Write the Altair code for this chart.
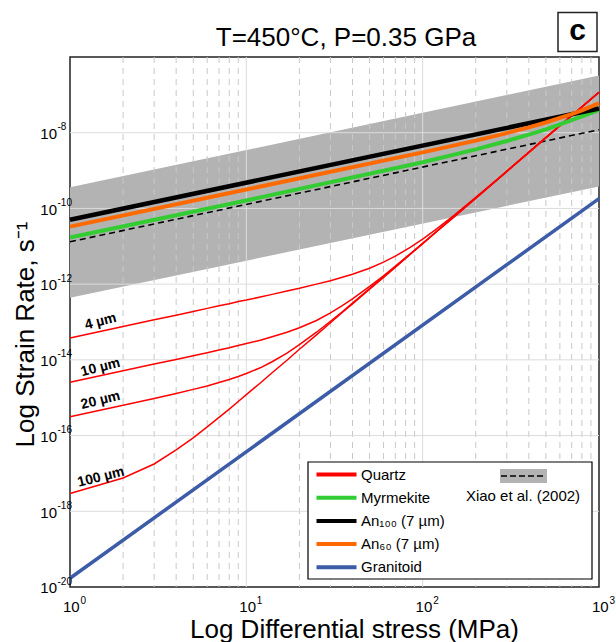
import altair as alt
import pandas as pd

FONT = "Liberation Sans"

# ---------------- data (log10 of strain rate) ----------------
stress_q = [1, 2, 3, 4, 5, 6, 7, 8, 9, 10, 12, 14, 17, 20, 25, 30, 35, 40, 50, 60, 70, 85,
            100, 120, 150, 200, 300, 500, 1000]
log_q_4um = [-13.42, -13.12, -12.94, -12.82, -12.72, -12.64, -12.57, -12.52, -12.46, -12.42,
             -12.34, -12.27, -12.18, -12.11, -12.00, -11.91, -11.82, -11.74, -11.58, -11.42,
             -11.26, -11.03, -10.81, -10.54, -10.19, -9.71, -9.02, -8.13, -6.93]
log_q_10um = [-14.59, -14.29, -14.11, -13.99, -13.89, -13.81, -13.74, -13.68, -13.62, -13.57,
              -13.48, -13.39, -13.27, -13.15, -12.96, -12.76, -12.57, -12.39, -12.06, -11.78,
              -11.52, -11.20, -10.92, -10.61, -10.22, -9.73, -9.02, -8.13, -6.93]
log_q_20um = [-15.50, -15.20, -15.02, -14.89, -14.78, -14.69, -14.60, -14.52, -14.44, -14.36,
              -14.21, -14.05, -13.82, -13.60, -13.27, -12.98, -12.73, -12.50, -12.12, -11.81,
              -11.55, -11.21, -10.93, -10.61, -10.23, -9.73, -9.02, -8.13, -6.93]
log_q_100um = [-17.53, -17.12, -16.75, -16.38, -16.06, -15.77, -15.52, -15.30, -15.10, -14.92,
               -14.61, -14.34, -14.01, -13.72, -13.34, -13.02, -12.75, -12.52, -12.13, -11.82,
               -11.55, -11.21, -10.93, -10.61, -10.23, -9.73, -9.02, -8.13, -6.93]
grain_names = ["4 µm", "10 µm", "20 µm", "100 µm"]

stress_f = [1, 10, 100, 200, 300, 400, 500, 600, 700, 800, 900, 1000]
log_myrmekite = [-10.77, -9.79, -8.78, -8.44, -8.22, -8.05, -7.91, -7.78, -7.67, -7.57, -7.48, -7.39]
log_an60 = [-10.48, -9.50, -8.52, -8.21, -8.01, -7.86, -7.73, -7.61, -7.51, -7.41, -7.31, -7.22]

stress_end = [1, 1000]
log_an100 = [-10.30, -7.36]
log_granitoid = [-19.77, -9.74]
log_xiao = [-10.88, -7.92]
log_xiao_lo = [-12.36, -9.42]
log_xiao_hi = [-9.44, -6.49]

series_names = ["Quartz", "Myrmekite", "An₁₀₀ (7 µm)", "An₆₀ (7 µm)", "Granitoid"]
series_colors = ["#ff0000", "#33cc33", "#000000", "#ff6a00", "#3d5ca8"]

# grain-size annotations (data space)
label_text = ["4 µm", "10 µm", "20 µm", "100 µm"]
label_stress = [1.49, 1.49, 1.49, 1.50]
label_log = [-12.99, -14.20, -15.07, -17.10]

# grid / ticks
x_major = [10, 100]
x_minor = [2, 3, 4, 5, 6, 7, 8, 9, 20, 30, 40, 50, 60, 70, 80, 90,
           200, 300, 400, 500, 600, 700, 800, 900]
y_major_exp = [-18, -16, -14, -12, -10, -8]
x_tick_vals = [1, 10, 100, 1000]
x_tick_exp = ["0", "1", "2", "3"]
y_tick_exp_num = [-20, -18, -16, -14, -12, -10, -8]
y_tick_exp = ["-20", "-18", "-16", "-14", "-12", "-10", "-8"]

# ---------------- tables ----------------
q_rows = []
for g, vals in zip(grain_names, [log_q_4um, log_q_10um, log_q_20um, log_q_100um]):
    for s, v in zip(stress_q, vals):
        q_rows.append({"stress": s, "rate": 10 ** v, "grain": g, "series": "Quartz"})
quartz_df = pd.DataFrame(q_rows)


def series_df(name, xs, logs):
    return pd.DataFrame({"stress": xs, "rate": [10 ** v for v in logs], "series": name})


myr_df = series_df(series_names[1], stress_f, log_myrmekite)
an100_df = series_df(series_names[2], stress_end, log_an100)
an60_df = series_df(series_names[3], stress_f, log_an60)
gran_df = series_df(series_names[4], stress_end, log_granitoid)
xiao_df = pd.DataFrame({"stress": stress_end, "rate": [10 ** v for v in log_xiao]})
band_df = pd.DataFrame({"stress": stress_end,
                        "lo": [10 ** v for v in log_xiao_lo],
                        "hi": [10 ** v for v in log_xiao_hi]})
ann_df = pd.DataFrame({"stress": label_stress, "rate": [10 ** v for v in label_log],
                       "label": label_text})
xmaj_df = pd.DataFrame({"stress": x_major})
xmin_df = pd.DataFrame({"stress": x_minor})
ymaj_df = pd.DataFrame({"rate": [10.0 ** e for e in y_major_exp]})
xtick_df = pd.DataFrame({"stress": x_tick_vals, "base": "10", "exp": x_tick_exp})
ytick_df = pd.DataFrame({"rate": [10.0 ** e for e in y_tick_exp_num], "base": "10", "exp": y_tick_exp})
one = pd.DataFrame({"k": [0]})

xscale = alt.Scale(type="log", domain=[1, 1000], nice=False)
yscale = alt.Scale(type="log", domain=[1e-20, 1e-6], nice=False)

xaxis = alt.Axis(labels=False, grid=False, ticks=False, domain=False,
                 titleFontSize=26, titleFont=FONT, titleFontWeight="normal", titleColor="black",
                 titleX=284, titleY=50, titleBaseline="alphabetic", titleAlign="center")
yaxis = alt.Axis(labels=False, grid=False, ticks=False, domain=False,
                 titleFontSize=26, titleFont=FONT, titleFontWeight="normal", titleColor="black",
                 titleX=-37, titleY=277, titleAngle=270, titleBaseline="alphabetic",
                 titleAlign="center")

XT = "Log Differential stress (MPa)"
YT = "Log Strain Rate, s⁻¹"


def X(field="stress"):
    return alt.X(f"{field}:Q", scale=xscale, axis=xaxis, title=XT)


def Y(field="rate"):
    return alt.Y(f"{field}:Q", scale=yscale, axis=yaxis, title=YT)


color = alt.Color("series:N",
                  scale=alt.Scale(domain=series_names, range=series_colors),
                  title=None,
                  legend=alt.Legend(orient="none", legendX=245, legendY=410, direction="vertical",
                                    symbolType="M-5,0H5", symbolSize=64, symbolStrokeWidth=4,
                                    symbolOffset=14, labelOffset=17, labelFontSize=15,
                                    labelFont=FONT, labelColor="black", rowPadding=6.2,
                                    padding=0, labelLimit=0))

band = alt.Chart(band_df).mark_area(color="#b3b3b3", opacity=1).encode(
    x=X(), y=Y("lo"), y2=alt.Y2("hi:Q"))
grid_xmin = alt.Chart(xmin_df).mark_rule(color="#c8c8c8", strokeWidth=1, strokeDash=[6, 5]).encode(x=X())
grid_xmaj = alt.Chart(xmaj_df).mark_rule(color="#dcdcdc", strokeWidth=1).encode(x=X())
grid_ymaj = alt.Chart(ymaj_df).mark_rule(color="#dcdcdc", strokeWidth=1).encode(y=Y())
xiao_line = alt.Chart(xiao_df).mark_line(color="black", strokeWidth=1.6, strokeDash=[6, 4]).encode(
    x=X(), y=Y())
quartz = alt.Chart(quartz_df).mark_line(strokeWidth=1.5).encode(
    x=X(), y=Y(), color=color, detail="grain:N")
thick = [alt.Chart(d).mark_line(strokeWidth=w).encode(x=X(), y=Y(), color=color)
         for d, w in [(myr_df, 4), (an100_df, 4.5), (an60_df, 4), (gran_df, 3.5)]]
ann = alt.Chart(ann_df).mark_text(font=FONT, fontSize=14, fontWeight="bold", angle=346,
                                  color="black", align="center", baseline="middle").encode(
    x=X(), y=Y(), text="label:N")

# tick labels with superscript exponents
xlab_base = alt.Chart(xtick_df).mark_text(font=FONT, fontSize=15, color="black", align="center",
                                          baseline="alphabetic", dx=1.3).encode(
    x=X(), y=alt.value(554.5), text="base:N")
xlab_exp = alt.Chart(xtick_df).mark_text(font=FONT, fontSize=10, color="black", align="left",
                                         baseline="alphabetic", dx=10.5).encode(
    x=X(), y=alt.value(546.5), text="exp:N")
ylab_base = alt.Chart(ytick_df).mark_text(font=FONT, fontSize=15, color="black", align="right",
                                          baseline="alphabetic", dy=6.3).encode(
    x=alt.value(-13), y=Y(), text="base:N")
ylab_exp = alt.Chart(ytick_df).mark_text(font=FONT, fontSize=10, color="black", align="left",
                                         baseline="alphabetic", dy=-2.5).encode(
    x=alt.value(-12.5), y=Y(), text="exp:N")

# legend frame and reference entry (decorations)
leg_box = alt.Chart(one).mark_rect(fill="white", stroke="black", strokeWidth=1.2).encode(
    x=alt.value(238), x2=alt.value(522), y=alt.value(405), y2=alt.value(522))
leg_gray = alt.Chart(one).mark_rect(fill="#b3b3b3").encode(
    x=alt.value(430), x2=alt.value(477), y=alt.value(412), y2=alt.value(426))
leg_dash = alt.Chart(one).mark_rule(color="black", strokeWidth=1.6, strokeDash=[6, 3]).encode(
    x=alt.value(431), x2=alt.value(476), y=alt.value(419))
leg_text = alt.Chart(one).mark_text(font=FONT, fontSize=15, color="black", align="center",
                                    baseline="alphabetic").encode(
    x=alt.value(453), y=alt.value(444), text=alt.value("Xiao et al. (2002)"))

# title and panel letter
title_txt = alt.Chart(one).mark_text(font=FONT, fontSize=26, color="black", align="center",
                                     baseline="alphabetic").encode(
    x=alt.value(276), y=alt.value(-11.5), text=alt.value("T=450°C, P=0.35 GPa"))
c_box = alt.Chart(one).mark_rect(fill="white", stroke="#222222", strokeWidth=1.5).encode(
    x=alt.value(488), x2=alt.value(527), y=alt.value(-44.5), y2=alt.value(-5.5))
c_txt = alt.Chart(one).mark_text(font=FONT, fontSize=30, fontWeight="bold", color="black",
                                 align="center", baseline="alphabetic").encode(
    x=alt.value(507.5), y=alt.value(-17.5), text=alt.value("c"))

chart = alt.layer(
    band, grid_xmin, grid_xmaj, grid_ymaj, xiao_line, quartz, *thick, ann,
    xlab_base, xlab_exp, ylab_base, ylab_exp,
    leg_box, leg_gray, leg_dash, leg_text, title_txt, c_box, c_txt
).properties(
    width=529, height=530,
    autosize=alt.AutoSizeParams(type="none"),
    padding={"left": 70, "top": 57, "right": 17, "bottom": 55},
    background="white",
).configure_view(stroke="#222222", strokeWidth=1.5)

chart.save("out.html", embed_options={"renderer": "svg", "actions": False})
